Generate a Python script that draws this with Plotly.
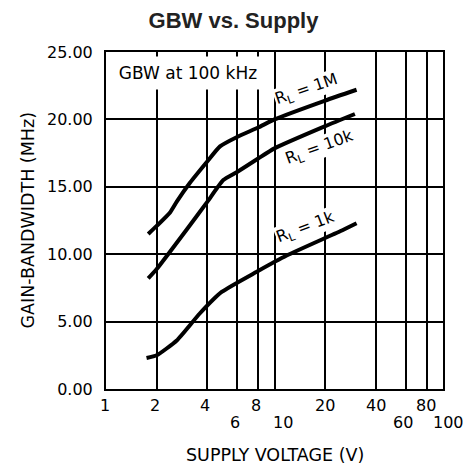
import plotly.graph_objects as go
import numpy as np

# ---- data ----
x_1M = [1.78, 2.0, 2.4, 2.63, 3.15, 4.0, 4.75, 6.0, 8.0, 10.0, 20.0, 30.7]
y_1M = [11.5, 12.1, 13.1, 13.9, 15.3, 16.9, 18.0, 18.7, 19.4, 20.0, 21.4, 22.2]

x_10k = [1.78, 2.0, 3.0, 4.0, 4.97, 6.0, 8.0, 10.0, 20.0, 30.0]
y_10k = [8.2, 8.9, 11.8, 13.9, 15.5, 16.1, 17.1, 17.85, 19.5, 20.4]

x_1k = [1.74, 2.0, 2.63, 3.6, 4.86, 7.85, 11.8, 24.5, 30.7]
y_1k = [2.3, 2.5, 3.6, 5.6, 7.2, 8.7, 9.9, 11.7, 12.3]

x_grid = [1, 2, 4, 6, 8, 10, 20, 40, 60, 80, 100]
x_lab_upper = ["1", "2", "4", "8", "20", "40", "80"]
x_lab_lower = ["6", "10", "60", "100"]
y_ticks = [0, 5, 10, 15, 20, 25]
y_labels = ["0.00", "5.00", "10.00", "15.00", "20.00", "25.00"]

series_labels = ["R<sub>L</sub> = 1M", "R<sub>L</sub> = 10k", "R<sub>L</sub> = 1k"]
label_pos_x = [15.5, 18.6, 15.2]
label_pos_y = [22.2, 17.9, 12.0]
label_angle = [-19, -20, -21]

FONT = "DejaVu Sans"

fig = go.Figure()
for xs, ys in [(x_1M, y_1M), (x_10k, y_10k), (x_1k, y_1k)]:
    fig.add_trace(go.Scatter(x=xs, y=ys, mode="lines",
                             line=dict(color="black", width=4, shape="spline", smoothing=0.5),
                             showlegend=False, hoverinfo="skip"))

ann = []
# x tick labels (staggered)
shifts = {"1": -1, "2": -2, "4": -2, "8": -2, "20": 0, "40": 0, "80": -1,
          "6": -2, "10": 8, "60": -3, "100": 5}
for lab in x_lab_upper:
    ann.append(dict(x=np.log10(float(lab)), y=0, xref="x", yref="paper", text=lab,
                    showarrow=False, yanchor="middle", xanchor="center",
                    yshift=-16, xshift=shifts[lab], font=dict(size=16, family=FONT, color="black")))
for lab in x_lab_lower:
    ann.append(dict(x=np.log10(float(lab)), y=0, xref="x", yref="paper", text=lab,
                    showarrow=False, yanchor="middle", xanchor="center",
                    yshift=-33, xshift=shifts[lab], font=dict(size=16, family=FONT, color="black")))
# curve labels
for t, lx, ly, a in zip(series_labels, label_pos_x, label_pos_y, label_angle):
    ann.append(dict(x=np.log10(lx), y=ly, xref="x", yref="y", text=t, showarrow=False,
                    textangle=a, bgcolor="white", borderpad=0,
                    font=dict(size=16, family=FONT, color="black")))
# inner note
ann.append(dict(x=0, y=1, xref="paper", yref="paper", text="GBW at 100 kHz",
                showarrow=False, xanchor="left", yanchor="top", xshift=2, yshift=-4,
                width=158, height=32, bgcolor="white", borderpad=0, align="center",
                font=dict(size=17, family=FONT, color="black")))
# axis titles
ann.append(dict(x=0.5, y=0, xref="paper", yref="paper", text="SUPPLY VOLTAGE (V)",
                showarrow=False, yanchor="middle", yshift=-66,
                font=dict(size=17.5, family=FONT, color="black")))
ann.append(dict(x=0, y=0.5, xref="paper", yref="paper", text="GAIN-BANDWIDTH (MHz)",
                showarrow=False, xanchor="center", yanchor="middle", xshift=-79, textangle=-90,
                font=dict(size=17.5, family=FONT, color="black")))

fig.update_layout(
    width=467, height=470,
    margin=dict(l=106, r=24, t=52, b=81),
    paper_bgcolor="white", plot_bgcolor="white",
    title=dict(text="<b>GBW vs. Supply</b>", x=0.5, xref="container", xanchor="center",
               y=1 - 20 / 470, yref="container", yanchor="middle",
               font=dict(size=22, family="Liberation Sans", color="#222222")),
    xaxis=dict(type="log", range=[0, 2], tickvals=x_grid, showticklabels=False,
               showgrid=True, gridcolor="black", gridwidth=1.5, ticks="",
               showline=True, mirror=True, linecolor="black", linewidth=2, zeroline=False),
    yaxis=dict(range=[0, 25], tickvals=y_ticks, ticktext=y_labels, ticks="",
               showgrid=True, gridcolor="black", gridwidth=1.5,
               showline=True, mirror=True, linecolor="black", linewidth=2, zeroline=False,
               tickfont=dict(size=16, family=FONT, color="black"), ticklabelstandoff=8),
    annotations=ann,
)
fig.write_html("out.html", config={"displayModeBar": False},
               post_script="document.body.style.margin='0';document.body.style.padding='0';")
